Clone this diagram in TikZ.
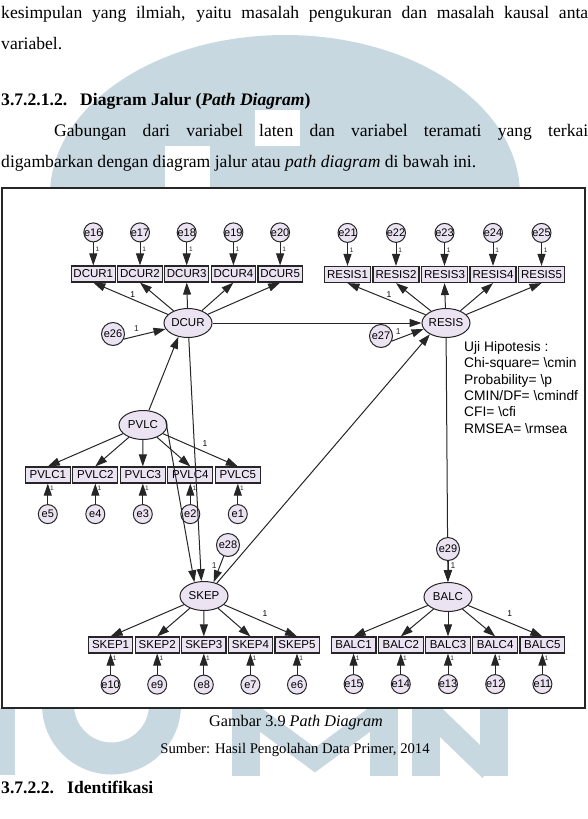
\documentclass[tikz,border=0pt]{standalone}
\usepackage{fontspec}
\setmainfont{Liberation Serif}
\newfontfamily\amosfont{Liberation Sans}
\usetikzlibrary{arrows.meta,positioning,shapes.geometric}
\definecolor{AmosLilac}{HTML}{ECE3F2}
\definecolor{AmosLine}{HTML}{262626}
\definecolor{MarkGray}{HTML}{C8D8E0}

\begin{document}
\begin{tikzpicture}[
  x=1pt,y=-1pt,
  every node/.style={inner sep=0pt},
  body/.style={font=\fontsize{17.6}{21}\selectfont,anchor=base west},
  head/.style={body,font=\fontsize{17.6}{21}\selectfont\bfseries},
  obs/.style={draw=AmosLine,line width=1.2pt,fill=AmosLilac,minimum height=16pt,
    font=\amosfont\fontsize{11.5}{12}\selectfont},
  lat/.style={ellipse,draw=AmosLine,line width=1pt,fill=AmosLilac,minimum width=48pt,
    minimum height=29pt,font=\amosfont\fontsize{11.5}{12}\selectfont},
  err/.style={circle,draw=AmosLine,line width=1pt,fill=AmosLilac,minimum size=19pt,
    font=\amosfont\fontsize{11}{12}\selectfont},
  errbig/.style={err,minimum size=23pt},
  arr/.style={-{Triangle[length=12pt,width=8pt]},line width=1pt,color=AmosLine},
  one/.style={font=\amosfont\fontsize{8.5}{9}\selectfont,inner sep=1pt},
  onesm/.style={font=\amosfont\fontsize{6.5}{7}\selectfont,inner sep=0.8pt}
]
\useasboundingbox (0,0) rectangle (588,819);

% watermark behind the page
\fill[MarkGray] (50,195) arc[start angle=180,end angle=360,x radius=235,y radius=160] -- cycle;
\fill[white] (255,110) rectangle (300,146);
\fill[white] (165,146) rectangle (210,195);
\fill[MarkGray] (0,708) rectangle (15,775);
\draw[MarkGray,line width=32pt] (58,700) -- (58,705) arc[start angle=180,end angle=0,radius=53.5] -- (165,700);
\draw[MarkGray,line width=28pt] (246,700) -- (246,776) (384,700) -- (384,776);
\draw[MarkGray,line width=20pt] (250,712) -- (315,760) -- (380,712);
\draw[MarkGray,line width=28pt] (426,700) -- (426,776) (494,700) -- (494,776);
\draw[MarkGray,line width=22pt] (430,712) -- (490,770);

% page text
\node[body] (t1) at (1,18) {\makebox[587pt][s]{kesimpulan yang ilmiah, yaitu masalah pengukuran dan masalah kausal anta}};
\node[body] (t2) at (1,49) {variabel.};
\node[head] (h1) at (1,105) {3.7.2.1.2.};
\node[head] (h1b) at (80,105) {Diagram Jalur (\textit{Path Diagram})};
\node[body] (t3) at (54,136) {\makebox[534pt][s]{Gabungan dari variabel laten dan variabel teramati yang terkai}};
\node[body] (t4) at (1,167) {digambarkan dengan diagram jalur atau \textit{path diagram} di bawah ini.};

\draw[AmosLine,line width=1.3pt,fill=white] (2,188) rectangle (585,708);

\node[font=\fontsize{16.2}{19}\selectfont,anchor=base] (cap) at (296,726) {Gambar 3.9 \textit{Path Diagram}};
\node[font=\fontsize{14.7}{17}\selectfont,anchor=base] (src) at (295,753) {Sumber: Hasil Pengolahan Data Primer, 2014};
\node[head] (h2) at (1,793) {3.7.2.2.};
\node[head] (h2b) at (67,793) {Identifikasi};

% latent variables
\node[lat] (DCUR) at (188,323) {\makebox[0pt]{DCUR}};
\node[lat] (RESIS) at (446,323) {\makebox[0pt]{RESIS}};
\node[lat] (PVLC) at (143,425) {\makebox[0pt]{PVLC}};
\node[lat] (SKEP) at (204,596) {\makebox[0pt]{SKEP}};
\node[lat] (BALC) at (448,597) {\makebox[0pt]{BALC}};

% indicators
\foreach \i in {1,...,5} {
  \node[obs,minimum width=44.3pt] (dcur\i) at ({93.3+46.7*(\i-1)},274) {DCUR\i};
  \node[obs,minimum width=46.1pt] (resis\i) at ({347.5+48.5*(\i-1)},274.5) {RESIS\i};
  \node[obs,minimum width=45.1pt] (pvlc\i) at ({47.8+47.5*(\i-1)},475) {PVLC\i};
  \node[obs,minimum width=44.2pt] (skep\i) at ({110.6+46.6*(\i-1)},645) {SKEP\i};
  \node[obs,minimum width=44.8pt] (balc\i) at ({353.6+47.2*(\i-1)},645) {BALC\i};
}

% error terms
\foreach \i/\e in {1/16,2/17,3/18,4/19,5/20}
  \node[err,above=23pt of dcur\i] (e\e) {\makebox[0pt]{e\e}};
\foreach \i/\e in {1/21,2/22,3/23,4/24,5/25}
  \node[err,above=23pt of resis\i] (e\e) {\makebox[0pt]{e\e}};
\foreach \i/\e in {1/5,2/4,3/3,4/2,5/1}
  \node[err,below=20.5pt of pvlc\i] (e\e) {\makebox[0pt]{e\e}};
\foreach \i/\e in {1/10,2/9,3/8,4/7,5/6}
  \node[err,below=21pt of skep\i] (e\e) {\makebox[0pt]{e\e}};
\foreach \i/\e in {1/15,2/14,3/13,4/12,5/11}
  \node[err,below=20.5pt of balc\i] (e\e) {\makebox[0pt]{e\e}};
\node[errbig] (e26) at (113,334) {\makebox[0pt]{e26}};
\node[errbig] (e27) at (381,336) {\makebox[0pt]{e27}};
\node[errbig] (e28) at (228,545) {\makebox[0pt]{e28}};

% measurement arrows
\foreach \i/\e in {1/16,2/17,3/18,4/19,5/20} {
  \draw[arr] (e\e) -- (dcur\i) node[onesm,pos=.3,right=1pt] (n\e) {1};
  \draw[arr] (DCUR) -- (dcur\i.south);
}
\foreach \i/\e in {1/21,2/22,3/23,4/24,5/25} {
  \draw[arr] (e\e) -- (resis\i) node[onesm,pos=.3,right=1pt] (n\e) {1};
  \draw[arr] (RESIS) -- (resis\i.south);
}
\foreach \i/\e in {1/5,2/4,3/3,4/2,5/1} {
  \draw[arr] (e\e) -- (pvlc\i) node[onesm,pos=.77,right=1pt] (n\e) {1};
  \draw[arr] (PVLC) -- (pvlc\i.north);
}
\foreach \i/\e in {1/10,2/9,3/8,4/7,5/6} {
  \draw[arr] (e\e) -- (skep\i) node[onesm,pos=.77,right=1pt] (n\e) {1};
  \draw[arr] (SKEP) -- (skep\i.north);
}
\foreach \i/\e in {1/15,2/14,3/13,4/12,5/11} {
  \draw[arr] (e\e) -- (balc\i) node[onesm,pos=.77,right=1pt] (n\e) {1};
  \draw[arr] (BALC) -- (balc\i.north);
}
\path (DCUR) -- (dcur1.south) node[one,pos=.47,above=1pt] (ndcur) {1};
\path (RESIS) -- (resis1.south) node[one,pos=.47,above=1pt] (nresis) {1};
\path (PVLC) -- (pvlc5.north) node[one,pos=.56,above=4pt] (npvlc) {1};
\path (SKEP) -- (skep5.north) node[one,pos=.56,above=5pt] (nskep) {1};
\path (BALC) -- (balc5.north) node[one,pos=.56,above=5pt] (nbalc) {1};

% structural paths
\draw[arr] (e26.-25) -- (DCUR.195) node[one,pos=.3,above=3pt] (n26) {1};
\draw[arr] (e27.-25) -- (RESIS.195) node[one,pos=.2,above=3pt] (n27) {1};
\draw[arr] (PVLC) -- (DCUR.235);
\draw[arr] (PVLC.15) -- (SKEP.125);
\draw[arr] (DCUR) -- (SKEP.100);
\draw[arr] (DCUR) -- (RESIS);
\draw[arr] (SKEP.45) -- (RESIS.215);
\draw[arr] (e28) -- (SKEP.55) node[one,pos=.35,left=2pt] (n28) {1};
\draw[arr] (RESIS) -- (BALC);
\node[errbig] (e29) at (448,549) {\makebox[0pt]{e29}};
\draw[arr] (e29) -- (BALC) node[one,pos=.2,right=1pt] (n29) {1};

% fit indices
\node[anchor=north west,align=left,font=\amosfont\fontsize{13.8}{16.4}\selectfont] (fit) at (464,341)
  {Uji Hipotesis :\\Chi-square= \textbackslash cmin\\Probability= \textbackslash p\\
   CMIN/DF= \textbackslash cmindf\\CFI= \textbackslash cfi\\RMSEA= \textbackslash rmsea};
\end{tikzpicture}
\end{document}
